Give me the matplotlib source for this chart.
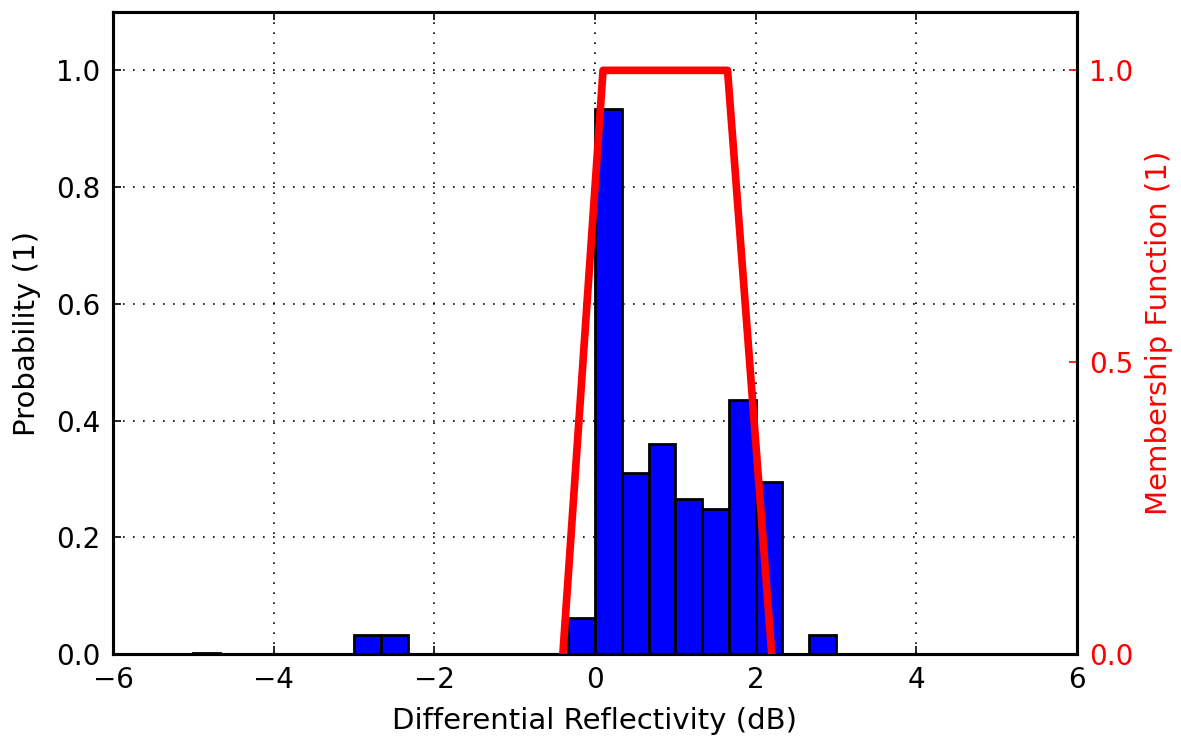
import matplotlib
matplotlib.use("Agg")
import matplotlib.pyplot as plt
import numpy as np

# Histogram data (bin left edges, width 1/3 dB)
bin_lefts = [-5.0, -3.0, -8/3, -1/3, 0.0, 1/3, 2/3, 1.0, 4/3, 5/3, 2.0, 8/3]
probabilities = [0.002, 0.033, 0.033, 0.062, 0.934, 0.310, 0.359, 0.265, 0.249, 0.436, 0.295, 0.033]
bin_width = 1/3

# Membership function (trapezoid)
mf_x = [-0.4, 0.1, 1.65, 2.2]
mf_y = [0.0, 1.0, 1.0, 0.0]

xticks = [-6, -4, -2, 0, 2, 4, 6]
yticks_left = [0.0, 0.2, 0.4, 0.6, 0.8, 1.0]
yticks_right = [0.0, 0.5, 1.0]

plt.rcParams['font.family'] = ['DejaVu Sans']
fs = 20
lfs = 21

fig = plt.figure(figsize=(11.81, 7.38), dpi=100, facecolor='white')
ax = fig.add_axes([113/1181, 1-654/738, (1077-113)/1181, (654-12)/738])

ax.bar(bin_lefts, probabilities, width=bin_width, align='edge',
       color='#0000ff', edgecolor='black', linewidth=2.0, zorder=2)
ax.set_xlim(-6, 6)
ax.set_ylim(0, 1.1)
ax.set_xticks(xticks)
ax.set_yticks(yticks_left)
ax.set_xticklabels([f"{t}" if t >= 0 else f"\u2212{abs(t)}" for t in xticks])
ax.set_yticklabels([f"{t:.1f}" for t in yticks_left])
ax.grid(True, color='black', linestyle=(0, (1, 5)), linewidth=1.2, zorder=0)
ax.set_axisbelow(True)
ax.tick_params(axis='both', direction='in', length=6, width=1.2, labelsize=fs,
               top=True, pad=9)
ax.tick_params(axis='y', right=False)
ax.set_xlabel('Differential Reflectivity (dB)', fontsize=lfs, labelpad=9)
ax.set_ylabel('Probability (1)', fontsize=lfs, labelpad=11)
for s in ax.spines.values():
    s.set_linewidth(2.2)

ax2 = ax.twinx()
ax2.plot(mf_x, mf_y, color='#ff0000', linewidth=5.5, zorder=3)
ax2.set_ylim(0, 1.1)
ax2.set_yticks(yticks_right)
ax2.set_yticklabels([f"{t:.1f}" for t in yticks_right])
ax2.tick_params(axis='y', direction='in', length=6, width=1.2, colors='#ff0000',
                labelsize=fs, pad=9)
ax2.set_ylabel('Membership Function (1)', color='#ff0000', fontsize=lfs, labelpad=8)
for s in ax2.spines.values():
    s.set_linewidth(2.2)
ax2.spines['right'].set_color('black')

fig.savefig('out.png', dpi=100, facecolor='white')
